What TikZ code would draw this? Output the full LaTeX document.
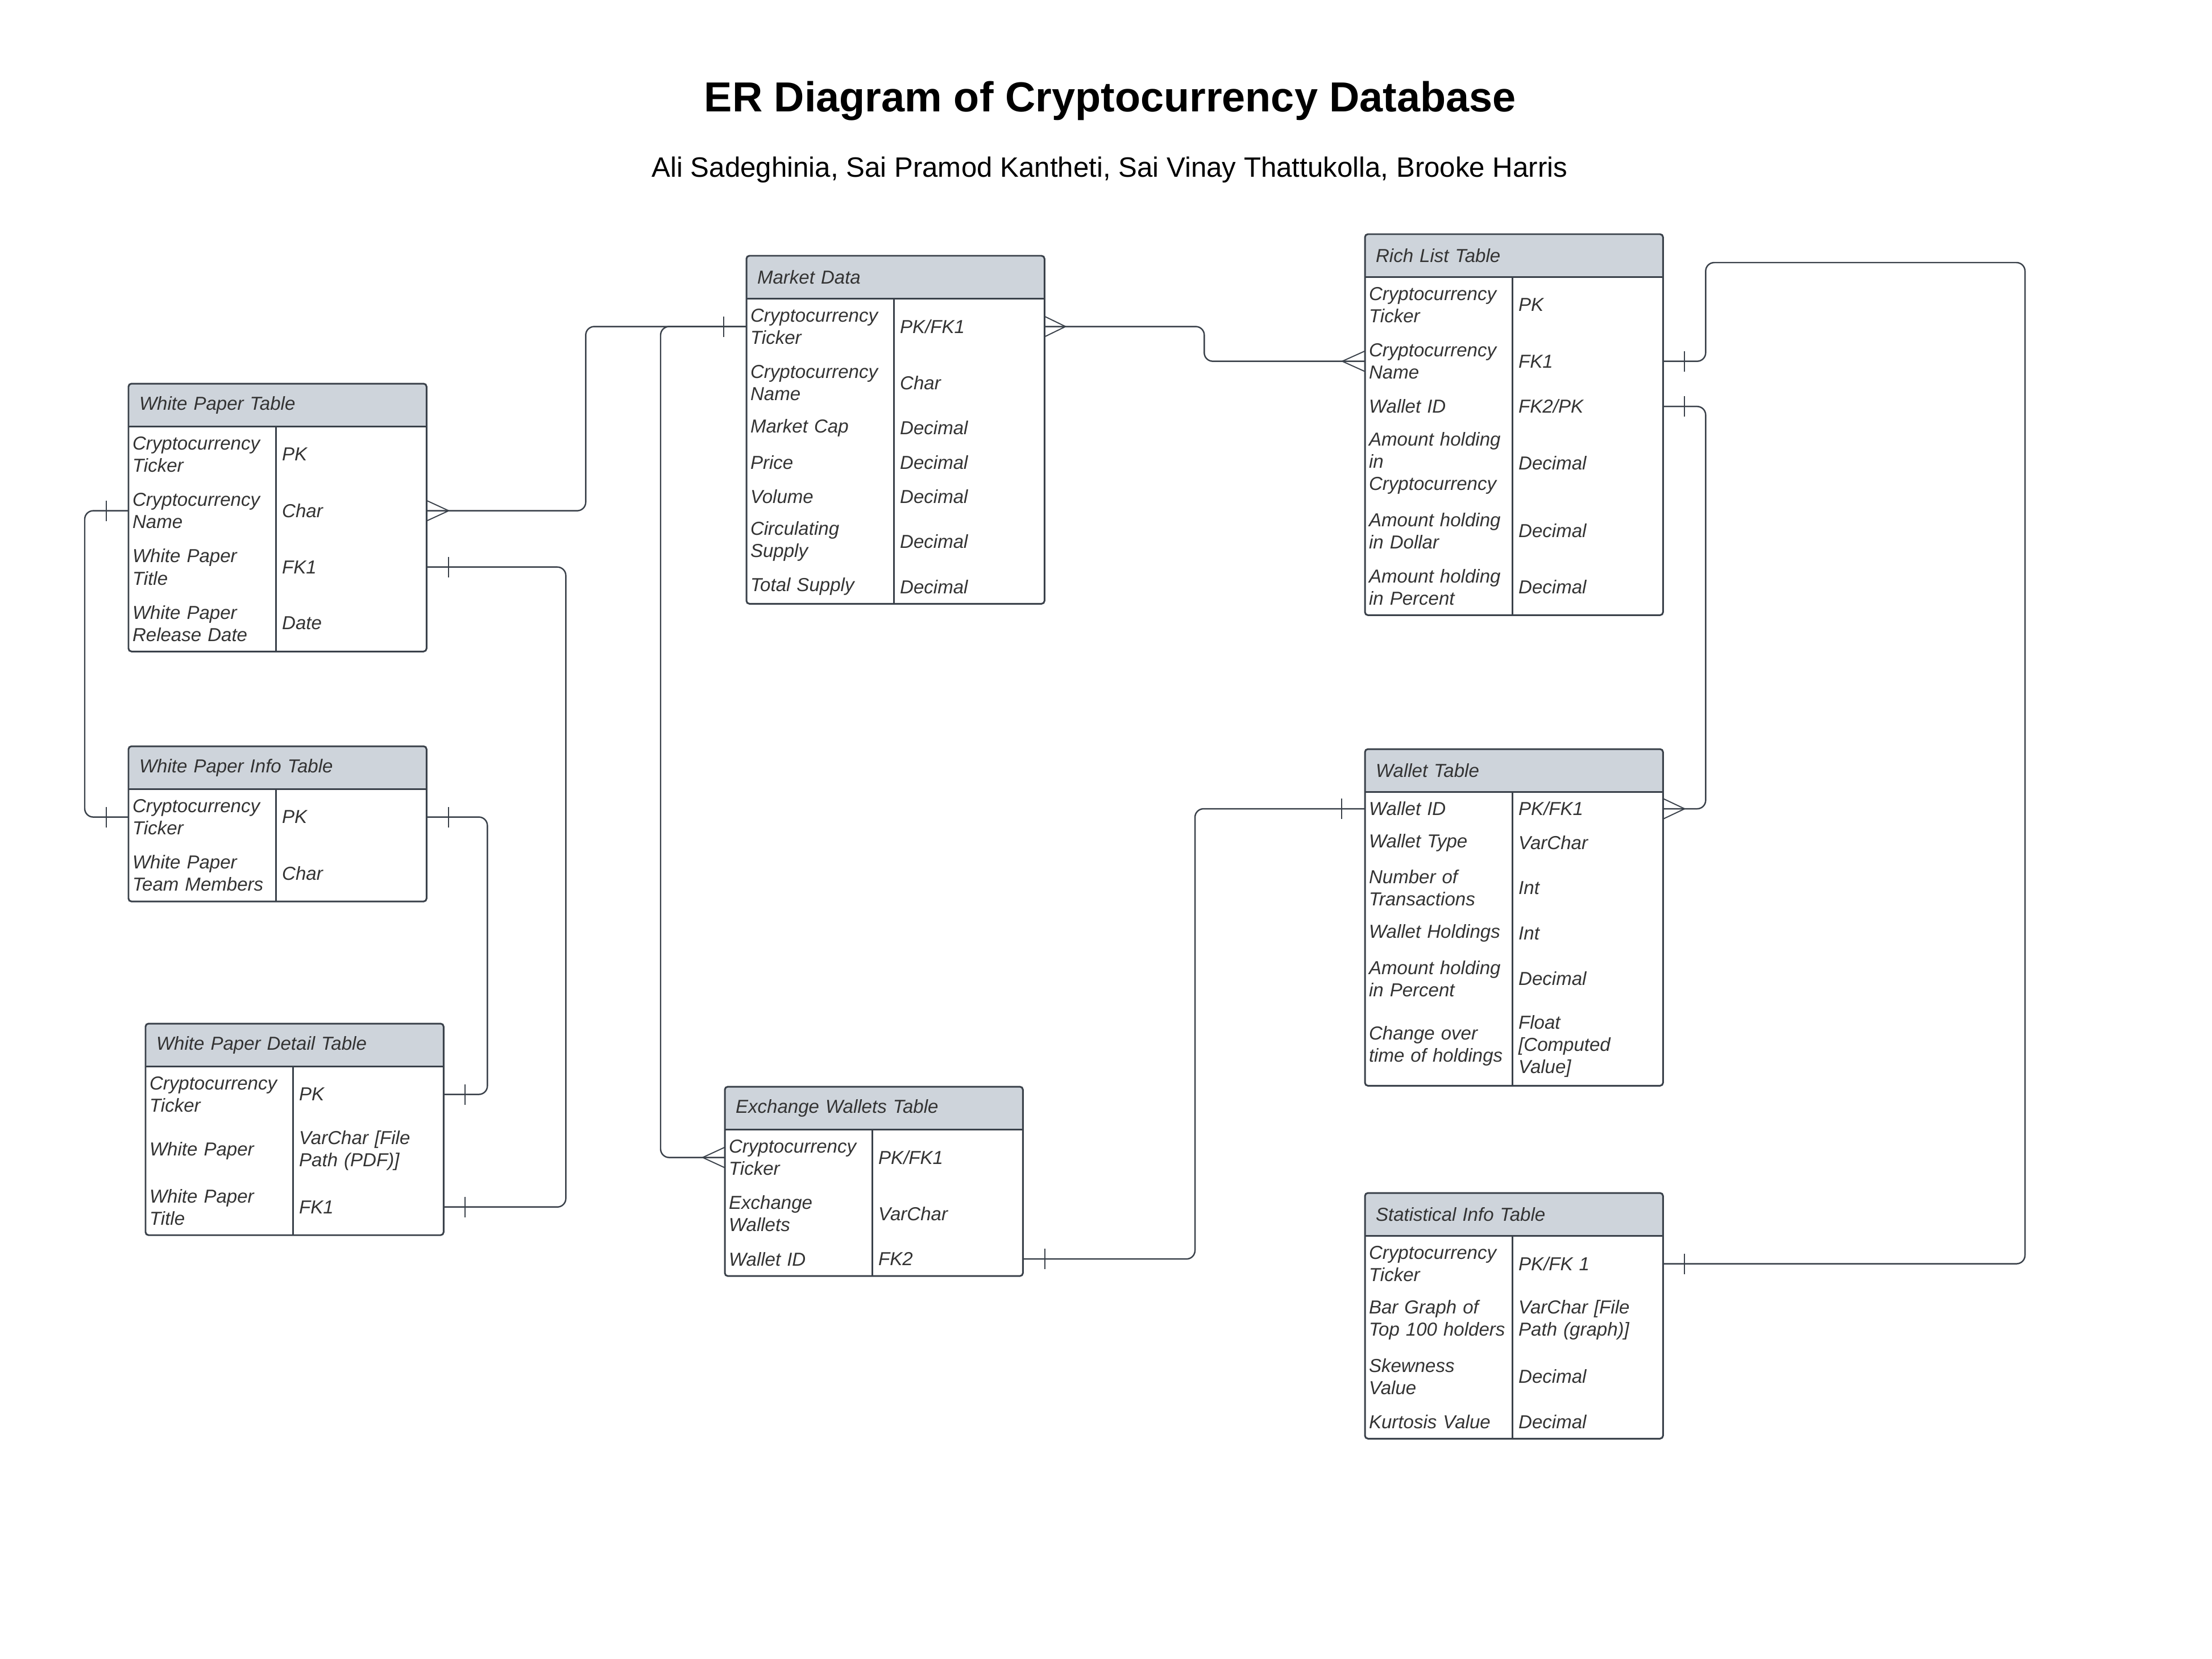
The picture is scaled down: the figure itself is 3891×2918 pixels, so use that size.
\documentclass[tikz,border=0pt]{standalone}
\usepackage{fontspec}
\setmainfont{Liberation Sans}
\definecolor{erline}{HTML}{3A414A}
\definecolor{headgray}{HTML}{CED4DB}
\definecolor{textgray}{HTML}{333333}
\newcommand{\cellfont}{\fontsize{9.4}{11.1}\selectfont\itshape}
% table pieces: header, one row (attribute + type), outline
\newcommand{\erhead}[4]{
    \node[headcell] (#1) at (#2,#3) {#4};
}
\newcommand{\errow}[5]{
    \node[keycell, minimum height=#3cm] (#1) at (#2.south west) {#4};
    \node[typecell, minimum height=#3cm] (#1t) at (#1.north east) {#5};
}
\newcommand{\erframe}[3]{
    \draw[tabframe, rounded corners=1.5pt] (#1.north west) rectangle (#3t.south east);
    \draw[tabframe] (#1.south west) -- (#1.south east);
    \draw[tabframe] (#2.north east) -- (#3.south east);
}
% crow's foot ends
\newcommand{\onetick}[2]{\draw[endtick] ([xshift=#2,yshift=0.18cm]#1) -- ([xshift=#2,yshift=-0.18cm]#1);}
\newcommand{\manytick}[2]{\draw[endtick] ([yshift=0.18cm]#1) -- ([xshift=#2]#1) -- ([yshift=-0.18cm]#1);}

\begin{document}
\begin{tikzpicture}[x=0.01cm, y=-0.01cm,
    tabframe/.style={draw=erline, line width=0.85pt},
    headcell/.style={anchor=north west, fill=headgray, rounded corners=1.5pt, minimum width=5.24cm, minimum height=0.75cm, text width=4.86cm, inner xsep=0.19cm, inner ysep=0pt, outer sep=0pt, align=left, font=\cellfont, text=textgray},
    keycell/.style={anchor=north west, minimum width=2.59cm, text width=2.45cm, inner xsep=0.07cm, inner ysep=0pt, outer sep=0pt, align=left, font=\cellfont, text=textgray},
    typecell/.style={keycell, minimum width=2.65cm, text width=2.43cm, inner xsep=0.11cm},
    conn/.style={draw=erline, line width=0.7pt, rounded corners=0.15cm},
    endtick/.style={draw=erline, line width=0.55pt}]
\useasboundingbox (0,0) rectangle (3891,2918);

\node[anchor=base, font=\bfseries\fontsize{21}{25}\selectfont] (title) at (1953,196) {ER Diagram of Cryptocurrency Database};
\node[anchor=base, font=\fontsize{14}{17}\selectfont] (authors) at (1952,311) {Ali Sadeghinia, Sai Pramod Kantheti, Sai Vinay Thattukolla, Brooke Harris};

% White Paper Table
\erhead{wp}{226}{675}{White Paper Table}
\errow{wp1}{wp}{0.99}{Cryptocurrency\\Ticker}{PK}
\errow{wp2}{wp1}{0.99}{Cryptocurrency\\Name}{Char}
\errow{wp3}{wp2}{0.99}{White Paper\\Title}{FK1}
\errow{wp4}{wp3}{0.99}{White Paper\\Release Date}{Date}
\erframe{wp}{wp1}{wp4}

% White Paper Info Table
\erhead{wpi}{226}{1313}{White Paper Info Table}
\errow{wpi1}{wpi}{0.99}{Cryptocurrency\\Ticker}{PK}
\errow{wpi2}{wpi1}{0.99}{White Paper\\Team Members}{Char}
\erframe{wpi}{wpi1}{wpi2}

% White Paper Detail Table
\erhead{wpd}{256}{1801}{White Paper Detail Table}
\errow{wpd1}{wpd}{0.99}{Cryptocurrency\\Ticker}{PK}
\errow{wpd2}{wpd1}{0.99}{White Paper}{VarChar [File\\Path (PDF)]}
\errow{wpd3}{wpd2}{0.99}{White Paper\\Title}{FK1}
\erframe{wpd}{wpd1}{wpd3}

% Market Data
\erhead{md}{1313}{450}{Market Data}
\errow{md1}{md}{0.99}{Cryptocurrency\\Ticker}{PK/FK1}
\errow{md2}{md1}{0.99}{Cryptocurrency\\Name}{Char}
\errow{md3}{md2}{0.60}{Market Cap}{Decimal}
\errow{md4}{md3}{0.60}{Price}{Decimal}
\errow{md5}{md4}{0.60}{Volume}{Decimal}
\errow{md6}{md5}{0.99}{Circulating\\Supply}{Decimal}
\errow{md7}{md6}{0.60}{Total Supply}{Decimal}
\erframe{md}{md1}{md7}

% Exchange Wallets Table
\erhead{ew}{1275}{1912}{Exchange Wallets Table}
\errow{ew1}{ew}{0.99}{Cryptocurrency\\Ticker}{PK/FK1}
\errow{ew2}{ew1}{0.99}{Exchange\\Wallets}{VarChar}
\errow{ew3}{ew2}{0.60}{Wallet ID}{FK2}
\erframe{ew}{ew1}{ew3}

% Rich List Table
\erhead{rl}{2401}{412}{Rich List Table}
\errow{rl1}{rl}{0.99}{Cryptocurrency\\Ticker}{PK}
\errow{rl2}{rl1}{0.99}{Cryptocurrency\\Name}{FK1}
\errow{rl3}{rl2}{0.60}{Wallet ID}{FK2/PK}
\errow{rl4}{rl3}{1.39}{Amount holding\\in\\Cryptocurrency}{Decimal}
\errow{rl5}{rl4}{0.99}{Amount holding\\in Dollar}{Decimal}
\errow{rl6}{rl5}{0.99}{Amount holding\\in Percent}{Decimal}
\erframe{rl}{rl1}{rl6}

% Wallet Table
\erhead{wt}{2401}{1318}{Wallet Table}
\errow{wt1}{wt}{0.60}{Wallet ID}{PK/FK1}
\errow{wt2}{wt1}{0.60}{Wallet Type}{VarChar}
\errow{wt3}{wt2}{0.99}{Number of\\Transactions}{Int}
\errow{wt4}{wt3}{0.60}{Wallet Holdings}{Int}
\errow{wt5}{wt4}{0.99}{Amount holding\\in Percent}{Decimal}
\errow{wt6}{wt5}{1.39}{Change over\\time of holdings}{Float\\{}[Computed\\Value]}
\erframe{wt}{wt1}{wt6}

% Statistical Info Table
\erhead{st}{2401}{2099}{Statistical Info Table}
\errow{st1}{st}{0.99}{Cryptocurrency\\Ticker}{PK/FK 1}
\errow{st2}{st1}{0.99}{Bar Graph of\\Top 100 holders}{VarChar [File\\Path (graph)]}
\errow{st3}{st2}{0.99}{Skewness\\Value}{Decimal}
\errow{st4}{st3}{0.60}{Kurtosis Value}{Decimal}
\erframe{st}{st1}{st4}

% relationships
\coordinate (rtop) at (3562,462);
\draw[conn] (wp2t.east) -- ++(280,0) |- (md1.west);
\draw[conn] (md1.west) -- ++(-151,0) |- (ew1.west);
\draw[conn] (md1t.east) -- ++(281,0) |- (rl2.west);
\draw[conn] (rl2t.east) -- ++(75,0) |- (rtop) |- (st1t.east);
\draw[conn] (rl3t.east) -- ++(75,0) |- (wt1t.east);
\draw[conn] (wt1.west) -- ++(-299,0) |- (ew3t.east);
\draw[conn] (wp3t.east) -- ++(245,0) |- (wpd3t.east);
\draw[conn] (wpi1t.east) -- ++(107,0) |- (wpd1t.east);
\draw[conn] (wp2.west) -- ++(-77,0) |- (wpi1.west);

\manytick{wp2t.east}{0.39cm}
\onetick{md1.west}{-0.40cm}
\manytick{ew1.west}{-0.39cm}
\manytick{md1t.east}{0.37cm}
\manytick{rl2.west}{-0.40cm}
\onetick{rl2t.east}{0.38cm}
\onetick{st1t.east}{0.38cm}
\onetick{rl3t.east}{0.38cm}
\manytick{wt1t.east}{0.38cm}
\onetick{wt1.west}{-0.41cm}
\onetick{ew3t.east}{0.39cm}
\onetick{wp3t.east}{0.39cm}
\onetick{wpd3t.east}{0.38cm}
\onetick{wpi1t.east}{0.39cm}
\onetick{wpd1t.east}{0.38cm}
\onetick{wp2.west}{-0.39cm}
\onetick{wpi1.west}{-0.39cm}
\end{tikzpicture}
\end{document}
